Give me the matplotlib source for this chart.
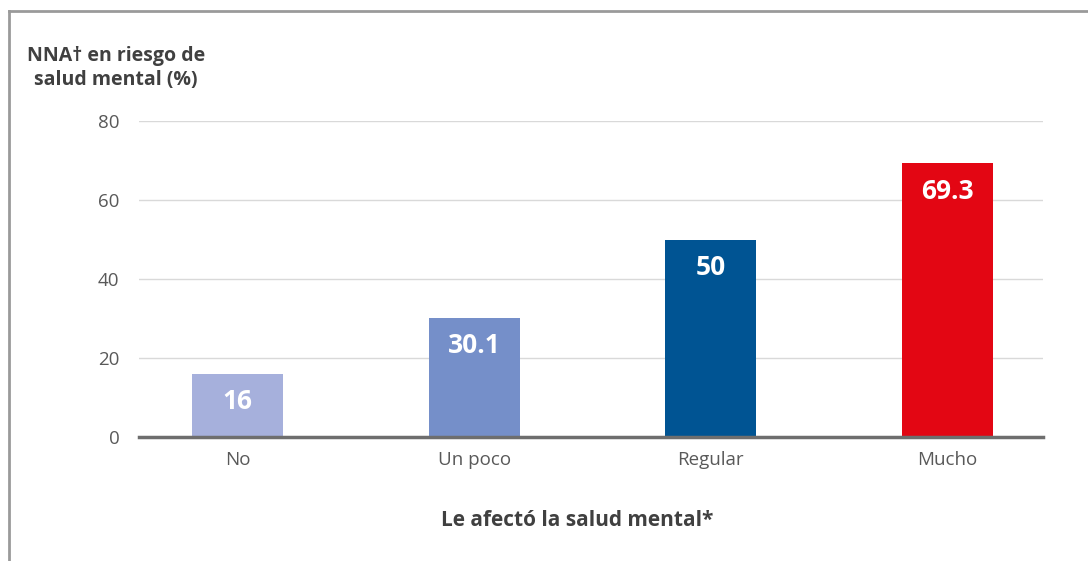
import matplotlib
matplotlib.use("Agg")
import matplotlib.pyplot as plt
from matplotlib.lines import Line2D

categories = ["No", "Un poco", "Regular", "Mucho"]
values = [16, 30.1, 50, 69.3]
value_labels = ["16", "30.1", "50", "69.3"]
colors = ["#A6B0DC", "#758FC9", "#005493", "#E30613"]
yticks = [0, 20, 40, 60, 80]

plt.rcParams["font.family"] = ["Open Sans", "DejaVu Sans"]

W, H = 1088, 561
fig = plt.figure(figsize=(W / 100, H / 100), dpi=100)
ax = fig.add_axes([139 / W, 1 - 437 / H, (1043 - 139) / W, (437 - 121) / H])

x = list(range(len(categories)))
ax.bar(x, values, width=0.385, color=colors, zorder=3)
for xi, v, lab in zip(x, values, value_labels):
    ax.annotate(lab, (xi, v), xytext=(0, -20), textcoords="offset points",
                ha="center", va="center", color="white", fontsize=19,
                fontweight="bold", zorder=4)

ax.set_xlim(-0.416, 3.403)
ax.set_ylim(0, 80)
ax.set_yticks(yticks)
ax.set_xticks(x)
ax.set_xticklabels(categories)
ax.tick_params(axis="both", length=0, labelsize=13.5, labelcolor="#595959")
ax.tick_params(axis="y", pad=14)
ax.tick_params(axis="x", pad=10)
ax.grid(axis="y", color="#D9D9D9", linewidth=1, zorder=0)
for s in ["top", "right", "left"]:
    ax.spines[s].set_visible(False)
ax.spines["bottom"].set_color("#6E6E6E")
ax.spines["bottom"].set_linewidth(2.5)
ax.spines["bottom"].set_zorder(5)

fig.text(116 / W, 1 - 68 / H, "NNA† en riesgo de\nsalud mental (%)", ha="center",
         va="center", fontsize=14, fontweight="bold", color="#404040",
         linespacing=1.25)
fig.text(577 / W, 1 - 520 / H, "Le afectó la salud mental*", ha="center",
         va="center", fontsize=15, fontweight="bold", color="#404040")

# figure frame
fig.add_artist(Line2D([9 / W, 1], [1 - 11 / H, 1 - 11 / H], color="#9A9A9A",
                      linewidth=2, transform=fig.transFigure))
fig.add_artist(Line2D([9 / W, 9 / W], [0, 1 - 11 / H], color="#9A9A9A",
                      linewidth=2, transform=fig.transFigure))

fig.savefig("out.png", dpi=100)
